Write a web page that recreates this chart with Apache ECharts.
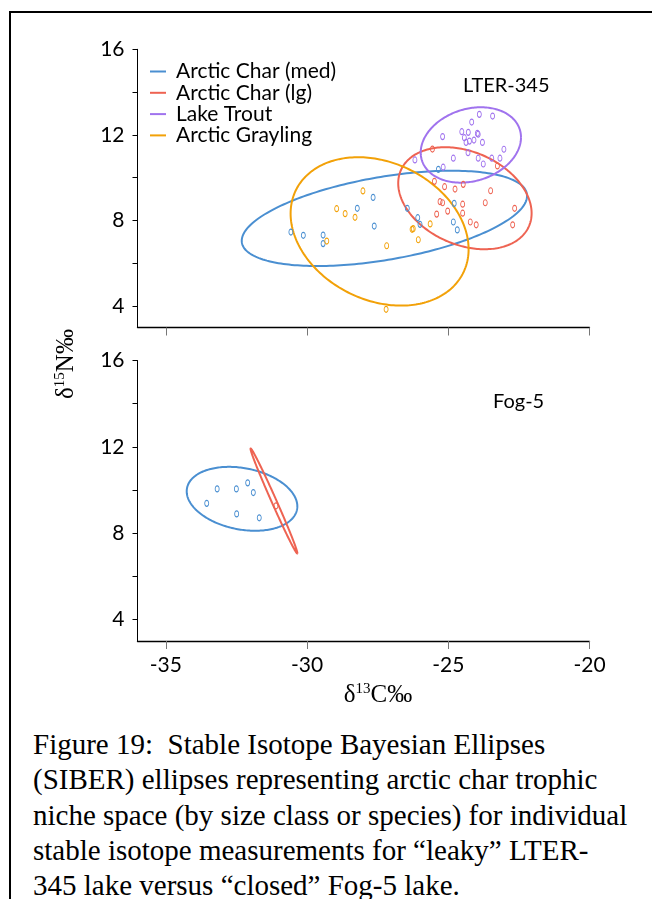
<!DOCTYPE html>
<html><head><meta charset="utf-8">
<script src="https://cdn.jsdelivr.net/npm/echarts@6/dist/echarts.min.js"></script>
<style>
html,body{margin:0;padding:0;background:#fff;overflow:hidden;}
#frame{position:absolute;left:9px;top:11px;width:700px;height:900px;border-left:2px solid #000;border-top:2px solid #000;}
#chart{position:absolute;left:0;top:0;width:652px;height:720px;}
#caption{position:absolute;left:33px;top:727px;font-family:"Liberation Serif","Times New Roman",serif;font-size:29px;line-height:35.3px;color:#000;white-space:nowrap;}
</style></head><body>
<div id="frame"></div>
<div id="chart"></div>
<div id="caption">Figure 19:&nbsp; Stable Isotope Bayesian Ellipses<br>(SIBER) ellipses representing arctic char trophic<br>niche space (by size class or species) for individual<br>stable isotope measurements for “leaky” LTER-<br>345 lake versus “closed” Fog-5 lake.</div>
<script>
// ---------- data ----------
const seriesNames = ['Arctic Char (med)', 'Arctic Char (lg)', 'Lake Trout', 'Arctic Grayling'];
const seriesColors = ['#4a8fd1', '#ee6352', '#a073ee', '#f2a108'];
const xTickValues = [-35, -30, -25, -20];
const yTickValues = [4, 6, 8, 10, 12, 14, 16];
const yLabelValues = [4, 8, 12, 16];
const panelLabels = ['LTER-345', 'Fog-5'];

// LTER-345 individual measurements [d13C, d15N]
const lterCharMed = [[-30.57,7.46],[-30.13,7.31],[-29.43,7.32],[-29.43,6.92],[-28.22,8.57],[-27.66,9.08],[-27.62,7.74],[-26.45,8.57],[-26.08,8.13],[-26.00,7.82],[-24.79,8.80],[-24.82,7.93],[-24.68,7.56],[-25.35,10.39]];
const lterCharLg = [[-25.56,11.34],[-25.49,9.83],[-25.13,9.58],[-24.76,9.47],[-24.47,9.69],[-23.50,9.39],[-25.29,8.88],[-25.20,8.83],[-25.41,8.30],[-25.02,8.44],[-24.49,8.34],[-24.22,7.93],[-24.01,7.80],[-23.69,8.83],[-22.65,8.57],[-22.72,7.80],[-23.26,10.55],[-24.49,8.76]];
const lterTrout = [[-23.90,12.96],[-23.43,12.88],[-24.17,12.60],[-25.20,11.92],[-24.52,12.15],[-24.29,12.12],[-24.43,11.87],[-23.97,12.07],[-23.94,12.03],[-24.37,11.65],[-24.25,11.71],[-24.09,11.76],[-23.79,11.65],[-23.03,11.33],[-24.30,11.17],[-24.82,10.91],[-23.94,10.91],[-23.76,10.64],[-23.46,10.91],[-23.17,10.91],[-26.18,10.83],[-25.18,10.49]];
const lterGrayling = [[-28.02,9.38],[-28.95,8.55],[-28.65,8.32],[-28.30,8.15],[-29.30,7.04],[-27.18,6.82],[-26.28,7.59],[-26.24,7.62],[-26.06,7.10],[-25.64,7.84],[-27.20,3.85]];
// Fog-5 individual measurements
const fogCharMed = [[-33.55,9.38],[-33.18,10.05],[-32.50,10.05],[-32.10,10.33],[-31.90,9.88],[-32.49,8.89],[-31.69,8.71]];
const fogCharLg = [[-31.10,9.26]];

// SIBER ellipses: [centre d13C, centre d15N, varX, covXY, varY]
const lterEllipseCharMed = [-27.26, 8.10, 25.50, 5.29, 4.957];
const lterEllipseCharLg = [-24.41, 9.04, 5.574, -1.654, 5.679];
const lterEllipseTrout = [-24.20, 11.53, 3.151, 0.629, 3.103];
const lterEllipseGrayling = [-27.43, 7.49, 9.925, -2.627, 12.02];
const fogEllipseCharMed = [-32.30, 9.59, 3.832, -0.680, 2.195];
const fogEllipseCharLg = [-31.17, 9.49, 0.687, -2.002, 5.912];

// ---------- chart ----------
const chart = echarts.init(document.getElementById('chart'), null, {renderer: 'canvas'});
const sans = 'Lato, "Open Sans", sans-serif';
const serif = '"Liberation Serif", "Times New Roman", serif';

function ellipseRender(params, api) {
  const cx = api.value(0), cy = api.value(1), sxx = api.value(2), sxy = api.value(3), syy = api.value(4);
  const l11 = Math.sqrt(sxx), l21 = sxy / l11, l22 = Math.sqrt(Math.max(syy - l21 * l21, 1e-9));
  const pts = [];
  for (let i = 0; i <= 240; i++) {
    const t = i / 240 * 2 * Math.PI, c = Math.cos(t), s = Math.sin(t);
    pts.push(api.coord([cx + l11 * c, cy + l21 * c + l22 * s]));
  }
  return {type: 'polyline', shape: {points: pts}, style: {fill: 'none', stroke: api.visual('color'), lineWidth: 2}};
}

function xAxis(grid, showLabels) {
  return {
    gridIndex: grid, type: 'value', min: -36, max: -20,
    axisLine: {onZero: false, lineStyle: {color: '#000', width: 1.3}},
    axisTick: {show: true, customValues: xTickValues, length: 8, lineStyle: {color: '#777', width: 1}},
    axisLabel: {show: showLabels, customValues: xTickValues, fontFamily: sans, fontSize: 21, color: '#000', margin: 14},
    splitLine: {show: false}
  };
}
function yAxis(grid) {
  return {
    gridIndex: grid, type: 'value', min: 3, max: 16,
    axisLine: {onZero: false, show: true, lineStyle: {color: '#000', width: 1}},
    axisTick: {show: true, customValues: yTickValues, length: 5, lineStyle: {color: '#000', width: 1}},
    axisLabel: {customValues: yLabelValues, fontFamily: sans, fontSize: 21, color: '#000', margin: 13},
    splitLine: {show: false}
  };
}

const ellipseSets = [
  [lterEllipseCharMed, lterEllipseCharLg, lterEllipseTrout, lterEllipseGrayling],
  [fogEllipseCharMed, fogEllipseCharLg, null, null]
];
const pointSets = [
  [lterCharMed, lterCharLg, lterTrout, lterGrayling],
  [fogCharMed, fogCharLg, null, null]
];

const series = [];
for (let g = 0; g < 2; g++) {
  for (let k = 0; k < 4; k++) {
    if (!ellipseSets[g][k]) continue;
    series.push({
      type: 'custom', name: seriesNames[k], xAxisIndex: g, yAxisIndex: g,
      renderItem: ellipseRender, data: [ellipseSets[g][k]],
      encode: {x: 0, y: 1}, itemStyle: {color: seriesColors[k]}, silent: true, z: 2
    });
  }
}
for (let g = 0; g < 2; g++) {
  for (let k = 0; k < 4; k++) {
    if (!pointSets[g][k]) continue;
    series.push({
      type: 'scatter', name: seriesNames[k], xAxisIndex: g, yAxisIndex: g,
      data: pointSets[g][k], symbol: 'circle', symbolSize: [4, 6],
      itemStyle: {color: 'rgba(255,255,255,0)', borderColor: seriesColors[k], borderWidth: 1, opacity: 1},
      silent: true, z: 3
    });
  }
}

chart.setOption({
  animation: false,
  backgroundColor: 'transparent',
  grid: [
    {left: 137.5, top: 49.3, width: 452, height: 278.2},
    {left: 137.5, top: 360.5, width: 452, height: 280.5}
  ],
  xAxis: [xAxis(0, false), xAxis(1, true)],
  yAxis: [yAxis(0), yAxis(1)],
  legend: {
    orient: 'vertical', left: 145, top: 56, itemWidth: 16, itemHeight: 2, itemGap: 0.3,
    icon: 'rect', selectedMode: false,
    textStyle: {fontFamily: sans, fontSize: 21, color: '#000', lineHeight: 21, padding: [0, 0, 0, 5]},
    data: seriesNames.map((n, i) => ({name: n, itemStyle: {color: seriesColors[i], borderWidth: 0}}))
  },
  graphic: [
    {type: 'text', left: 463, top: 76, style: {text: panelLabels[0], fontFamily: sans, fontSize: 20, fill: '#000'}},
    {type: 'text', left: 493, top: 392, style: {text: panelLabels[1], fontFamily: sans, fontSize: 20, fill: '#000'}},
    {type: 'text', x: 378, y: 695, style: {
      text: '{a|δ}{s|13}{a|C‰}', align: 'center', verticalAlign: 'middle',
      rich: {a: {fontFamily: serif, fontSize: 25, lineHeight: 26, fill: '#000'},
             s: {fontFamily: serif, fontSize: 15, lineHeight: 26, verticalAlign: 'top', fill: '#000'}}}},
    {type: 'text', x: 66, y: 364, rotation: Math.PI / 2, style: {
      text: '{a|δ}{s|15}{a|N‰}', align: 'center', verticalAlign: 'middle',
      rich: {a: {fontFamily: serif, fontSize: 25, lineHeight: 26, fill: '#000'},
             s: {fontFamily: serif, fontSize: 15, lineHeight: 26, verticalAlign: 'top', fill: '#000'}}}}
  ],
  series: series
});
</script>
</body></html>
